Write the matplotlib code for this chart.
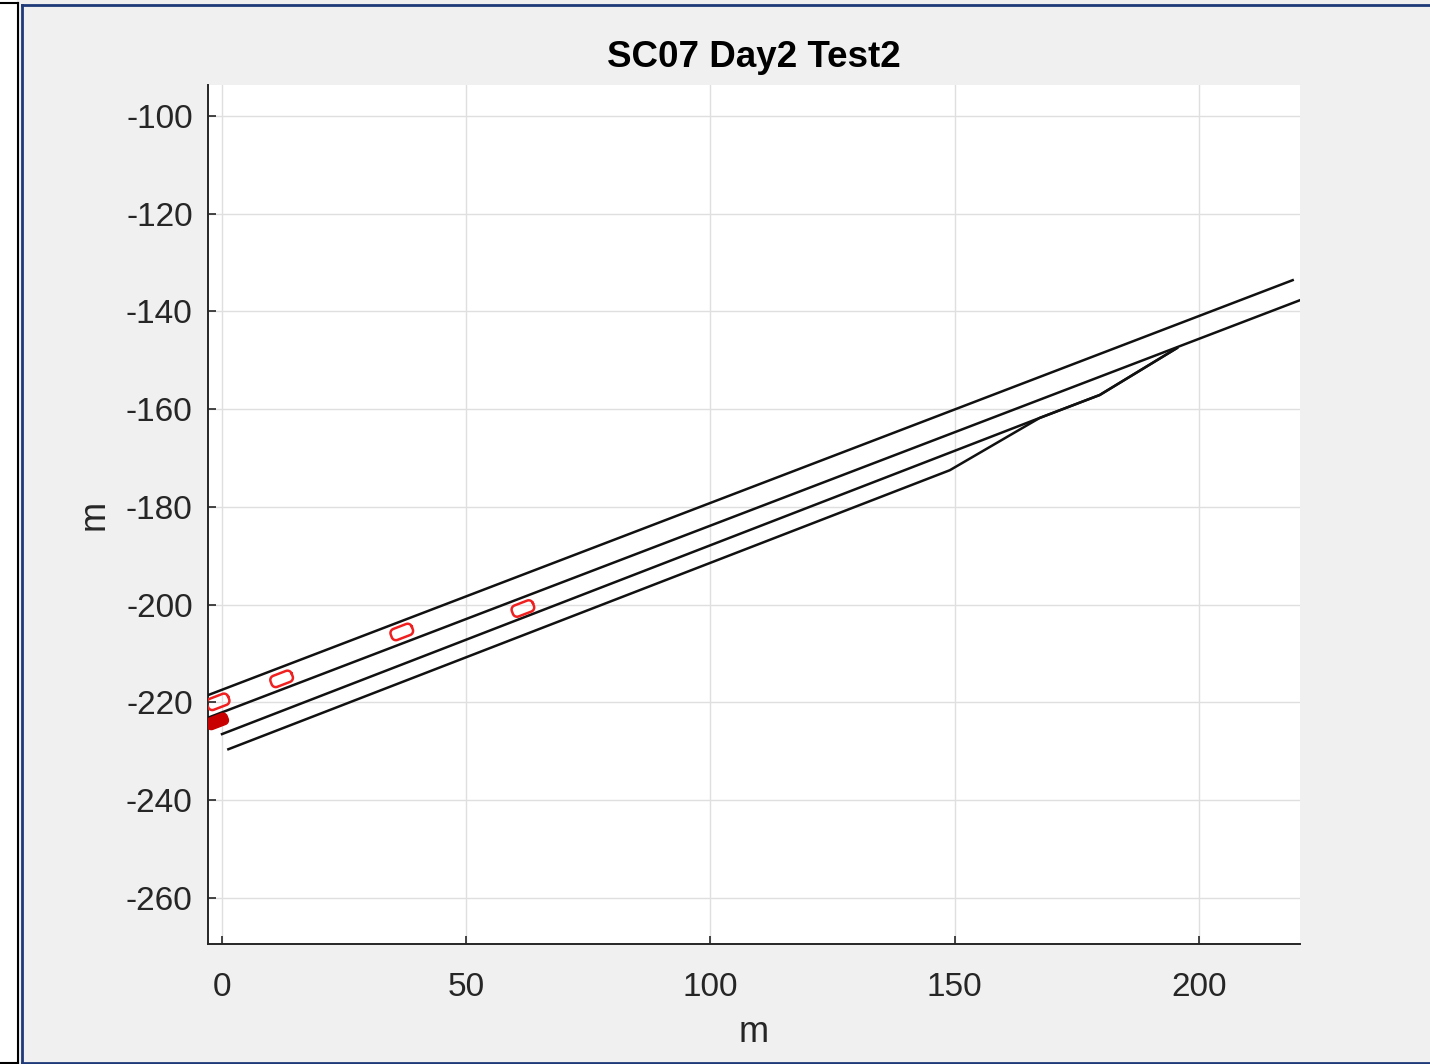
import numpy as np
import matplotlib.pyplot as plt
from matplotlib.patches import Rectangle
from matplotlib.lines import Line2D

plt.rcParams['font.family'] = ['Liberation Sans', 'DejaVu Sans']
plt.rcParams['axes.unicode_minus'] = False

# lane boundary polylines (m)
lane1_x = [-2.8, 219.2]
lane1_y = [-218.5, -133.6]
lane2_x = [-3.0, 220.7]
lane2_y = [-223.2, -137.7]
lane3_x = [0.0, 167.4, 179.7, 195.5]
lane3_y = [-226.5, -161.8, -157.1, -147.5]
lane4_x = [1.3, 149.0, 167.4, 179.7, 195.5]
lane4_y = [-229.6, -172.5, -161.8, -157.1, -147.5]

# target vehicles: centre x, centre y, heading (deg)
car_x = [-0.8, 12.2, 36.8, 61.6]
car_y = [-219.9, -215.2, -205.6, -200.8]
car_heading = [21, 21, 21, 21]

# ego vehicle
ego_x = [-1.0]
ego_y = [-223.9]
ego_heading = [21]

x_ticks = [0, 50, 100, 150, 200]
y_ticks = [-260, -240, -220, -200, -180, -160, -140, -120, -100]


def car_outline(cx, cy, heading, length=4.6, width=2.4, r=0.9):
    # rounded rectangle in vehicle frame, rotated to heading
    t = np.linspace(0, np.pi / 2, 10)
    hl, hw = length / 2 - r, width / 2 - r
    pts = []
    for sx, sy, a0 in [(1, 1, 0), (-1, 1, np.pi / 2), (-1, -1, np.pi), (1, -1, 1.5 * np.pi)]:
        ang = a0 + t
        pts.append(np.c_[sx * hl + r * np.cos(ang), sy * hw + r * np.sin(ang)])
    pts = np.vstack(pts + [pts[0][:1]])
    th = np.deg2rad(heading)
    rot = np.array([[np.cos(th), -np.sin(th)], [np.sin(th), np.cos(th)]])
    pts = pts @ rot.T
    return pts[:, 0] + cx, pts[:, 1] + cy


fig = plt.figure(figsize=(14.3, 10.64), dpi=100, facecolor='#f0f0f0')

# window frame
W, H = 1430, 1064
fig.add_artist(Rectangle((0, 0), 17 / W, 1, transform=fig.transFigure, facecolor='white', edgecolor='none'))
fig.add_artist(Line2D([17.5 / W, 17.5 / W], [0, 1 - 3 / H], transform=fig.transFigure, color='black', lw=1.5))
fig.add_artist(Line2D([0, 17.5 / W], [1 - 3 / H, 1 - 3 / H], transform=fig.transFigure, color='black', lw=1.5))
fig.add_artist(Line2D([0, 17.5 / W], [1.5 / H, 1.5 / H], transform=fig.transFigure, color='black', lw=1.5))
fig.add_artist(Line2D([21.5 / W, 1], [1 - 4.5 / H, 1 - 4.5 / H], transform=fig.transFigure, color='#1f3a78', lw=2))
fig.add_artist(Line2D([21.5 / W, 21.5 / W], [1.5 / H, 1 - 4.5 / H], transform=fig.transFigure, color='#1f3a78', lw=2))
fig.add_artist(Line2D([21.5 / W, 1], [1.5 / H, 1.5 / H], transform=fig.transFigure, color='#1f3a78', lw=2))

ax = fig.add_axes([208 / W, 1 - 944 / H, 1092 / W, 859 / H])
ax.set_facecolor('white')

for xs, ys in [(lane1_x, lane1_y), (lane2_x, lane2_y), (lane3_x, lane3_y), (lane4_x, lane4_y)]:
    ax.plot(xs, ys, color='#111111', lw=1.8, zorder=3)

for cx, cy, hd in zip(car_x, car_y, car_heading):
    ox, oy = car_outline(cx, cy, hd)
    ax.plot(ox, oy, color='#f02020', lw=1.8, zorder=4)

for cx, cy, hd in zip(ego_x, ego_y, ego_heading):
    ox, oy = car_outline(cx, cy, hd)
    ax.fill(ox, oy, color='#c80000', zorder=4)

ax.set_xlim(-2.87, 220.7)
ax.set_ylim(-269.46, -93.66)
ax.set_xticks(x_ticks)
ax.set_yticks(y_ticks)
ax.grid(True, color='#dfdfdf', lw=1.0)
ax.set_axisbelow(True)

for s in ['top', 'right']:
    ax.spines[s].set_visible(False)
for s in ['left', 'bottom']:
    ax.spines[s].set_color('#262626')
    ax.spines[s].set_linewidth(1.4)

ax.tick_params(direction='in', length=6, width=1.2, colors='#262626', labelsize=24)
ax.tick_params(axis='x', pad=20)
ax.tick_params(axis='y', pad=11)

ax.set_title('SC07 Day2 Test2', fontsize=26.5, fontweight='bold', color='black', pad=13)
ax.set_xlabel('m', fontsize=26, color='#262626', labelpad=9)
ax.set_ylabel('m', fontsize=26, color='#262626', labelpad=10)

fig.savefig('out.png', dpi=100, facecolor=fig.get_facecolor())
